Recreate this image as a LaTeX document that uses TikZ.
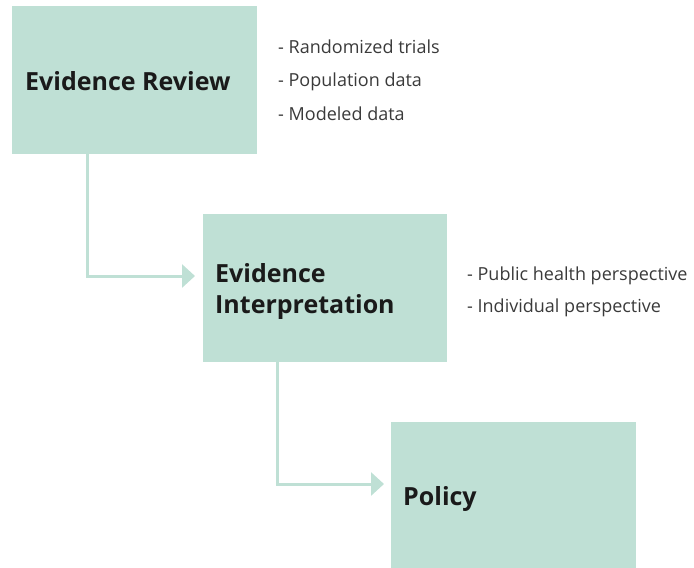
\documentclass[tikz,border=0pt]{standalone}
\usepackage{fontspec}
\setmainfont{Open Sans}
\usetikzlibrary{arrows.meta}
\definecolor{mint}{HTML}{BFE0D5}
\definecolor{titletext}{HTML}{1A1A1A}
\definecolor{bullettext}{HTML}{3A3A3A}
\tikzset{
  box/.style={fill=mint, draw=none, anchor=north west, inner sep=0pt},
  title/.style={anchor=base west, inner sep=0pt, align=left, text=titletext,
    font=\bfseries\fontsize{25}{31}\selectfont},
  bullets/.style={anchor=base west, inner sep=0pt, align=left, text=bullettext},
  conn/.style={draw=mint, line width=3pt, -{Triangle[length=13pt,width=23pt]}}
}
\begin{document}
\begin{tikzpicture}[x=1pt,y=-1pt]
\useasboundingbox (0,0) rectangle (694,568);
% boxes
\node[box, minimum width=245pt, minimum height=148pt] (box1) at (12,6) {};
\node[box, minimum width=244pt, minimum height=148pt] (box2) at (203,214) {};
\node[box, minimum width=245pt, minimum height=146pt] (box3) at (391,422) {};
% titles (anchor = baseline of last line)
\node[title] (t1) at (25,90) {Evidence Review};
\node[title] (t2) at (215,313) {Evidence\\Interpretation};
\node[title] (t3) at (403,505) {Policy};
% bullet lists
\node[bullets, font=\fontsize{18}{33.5}\selectfont] (b1) at (278,120)
  {- Randomized trials\\- Population data\\- Modeled data};
\node[bullets, font=\fontsize{18}{32}\selectfont] (b2) at (467,312)
  {- Public health perspective\\- Individual perspective};
% connectors
\coordinate (j1) at (87,276);
\coordinate (e1) at (195,276);
\coordinate (j2) at (277,484);
\coordinate (e2) at (384,484);
\draw[conn] (j1 |- box1.south) -- (j1) -- (e1);
\draw[conn] (j2 |- box2.south) -- (j2) -- (e2);
\end{tikzpicture}
\end{document}
